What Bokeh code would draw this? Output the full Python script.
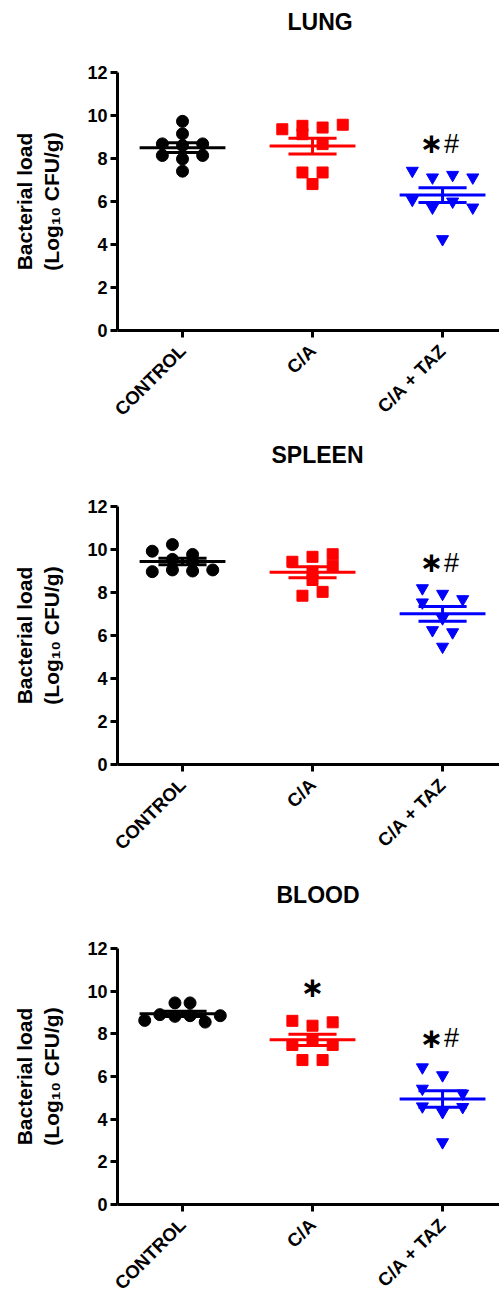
import numpy as np
from bokeh.plotting import figure
from bokeh.layouts import column
from bokeh.models import Range1d, FixedTicker, ColumnDataSource, Title
from bokeh.embed import file_html
from bokeh.resources import INLINE
from bokeh.core.properties import value

# ---------------- data ----------------
groups = ["CONTROL", "C/A", "C/A + TAZ"]
colors = ["#000000", "#FF0000", "#0000FF"]
markers = ["circle", "square", "inverted_triangle"]
y_ticks = [0, 2, 4, 6, 8, 10, 12]

# LUNG
lung_control = [9.73, 9.15, 8.68, 8.68, 8.60, 8.14, 8.14, 7.98, 7.41]
lung_control_slot = [0, 0, -1, 1, 0, -1, 1, 0, 0]
lung_ca = [9.36, 9.52, 9.13, 9.44, 9.57, 8.67, 7.35, 7.35, 6.81]
lung_ca_slot = [-1.5, -0.5, -0.5, 0.5, 1.5, 0.5, -0.5, 0.5, 0]
lung_taz = [7.43, 7.12, 7.24, 7.12, 6.08, 5.72, 6.00, 5.72, 4.25]
lung_taz_slot = [-1.5, -0.5, 0.5, 1.5, -1.5, -0.5, 0.5, 1.5, 0]
lung_sig = ["", "", "∗#"]
lung_sig_y = [0, 0, 8.74]

# SPLEEN
spleen_control = [9.92, 10.23, 9.54, 9.05, 8.97, 9.77, 9.43, 9.00, 9.05]
spleen_control_slot = [-1.5, -0.5, -0.5, -0.5, -1.5, 0.5, 0.5, 0.5, 1.5]
spleen_ca = [9.43, 9.66, 9.78, 9.25, 8.97, 8.58, 7.85, 8.03]
spleen_ca_slot = [-1, 0, 1, 1, 0, 0, -0.5, 0.5]
spleen_taz = [8.20, 7.94, 7.69, 7.54, 6.80, 6.25, 6.15, 5.48]
spleen_taz_slot = [-1, 0, 1, -1, 0, -0.5, 0.5, 0]
spleen_sig = ["", "", "∗#"]
spleen_sig_y = [0, 0, 9.43]

# BLOOD
blood_control = [8.63, 8.90, 9.45, 8.82, 9.45, 8.85, 8.55, 8.85]
blood_control_slot = [-1.875, -1.125, -0.375, -0.375, 0.375, 0.375, 1.125, 1.875]
blood_ca = [8.61, 8.38, 8.54, 7.48, 7.48, 6.77, 6.77, 7.72]
blood_ca_slot = [-1, 0, 1, -1, 1, -0.5, 0.5, 0]
blood_taz = [6.43, 6.06, 5.43, 5.20, 4.57, 4.33, 4.60, 2.92]
blood_taz_slot = [-1, 0, -1, 1, 1, 0, -1, 0]
blood_sig = ["", "∗", "∗#"]
blood_sig_y = [0, 10.24, 7.84]

panels = [
    ("LUNG", [lung_control, lung_ca, lung_taz],
     [lung_control_slot, lung_ca_slot, lung_taz_slot], lung_sig, lung_sig_y),
    ("SPLEEN", [spleen_control, spleen_ca, spleen_taz],
     [spleen_control_slot, spleen_ca_slot, spleen_taz_slot], spleen_sig, spleen_sig_y),
    ("BLOOD", [blood_control, blood_ca, blood_taz],
     [blood_control_slot, blood_ca_slot, blood_taz_slot], blood_sig, blood_sig_y),
]

# ---------------- styling ----------------
FONT = "Liberation Sans"
SLOT = 0.155          # horizontal spacing of point columns (category units)
MEAN_HALF = 0.33
SEM_HALF = 0.185
title_offsets = {"LUNG": 170, "SPLEEN": 154, "BLOOD": 159}
spacer_standoff = [25, 26, 28]
frame_heights = [258, 258, 256]
borders_bottom = [104, 112, 89]

figs = []
for k, (name, vals, slots, sig, sig_y) in enumerate(panels):
    p = figure(frame_width=382, frame_height=frame_heights[k],
               min_border_left=117, min_border_right=0,
               min_border_top=72, min_border_bottom=borders_bottom[k],
               x_range=Range1d(-0.5, 2.438), y_range=Range1d(0, 12),
               output_backend="svg", toolbar_location=None)
    # real title (outermost)
    p.title.text = name
    p.title.text_font = FONT
    p.title.text_font_size = "23px"
    p.title.text_font_style = "bold"
    p.title.text_color = "black"
    p.title.align = "left"
    p.title.offset = title_offsets[name]
    p.title.standoff = 0
    # invisible spacer between frame and title
    p.add_layout(Title(text=" ", text_font_size="10px",
                       standoff=spacer_standoff[k]), "above")

    p.grid.visible = False
    p.outline_line_color = None

    for ax in (p.xaxis, p.yaxis):
        ax.axis_line_width = 3
        ax.axis_line_color = "black"
        ax.major_tick_line_width = 3
        ax.major_tick_line_color = "black"
        ax.major_tick_out = 7
        ax.major_tick_in = 0
        ax.minor_tick_line_color = None
        ax.major_label_text_font = FONT
        ax.major_label_text_font_style = "bold"
        ax.major_label_text_color = "black"

    p.yaxis.ticker = FixedTicker(ticks=y_ticks)
    p.yaxis.major_label_text_font_size = "18px"
    p.yaxis.major_label_standoff = 3
    p.yaxis.axis_label = "Bacterial load\n(Log₁₀ CFU/g)"
    p.yaxis.axis_label_text_font = FONT
    p.yaxis.axis_label_text_font_style = "bold"
    p.yaxis.axis_label_text_font_size = "21px"
    p.yaxis.axis_label_text_color = "black"
    p.yaxis.axis_label_standoff = 21

    p.xaxis.ticker = FixedTicker(ticks=[0, 1, 2])
    p.xaxis.major_label_overrides = {i: g for i, g in enumerate(groups)}
    p.xaxis.major_label_orientation = np.pi / 4
    p.xaxis.major_label_text_font_size = "18.5px"
    p.xaxis.major_label_standoff = 10

    for gi in range(3):
        v = np.array(vals[gi], dtype=float)
        s = np.array(slots[gi], dtype=float)
        src = ColumnDataSource(dict(x=gi + s * SLOT, y=v))
        mean = v.mean()
        sem = v.std(ddof=1) / np.sqrt(len(v))
        c = colors[gi]
        p.scatter("x", "y", source=src, marker=markers[gi],
                  size=12 if markers[gi] != "square" else 11,
                  fill_color=c, line_color=c)
        p.segment(x0=[gi - MEAN_HALF], x1=[gi + MEAN_HALF], y0=[mean], y1=[mean],
                  line_color=c, line_width=3)
        p.segment(x0=[gi - SEM_HALF, gi - SEM_HALF, gi], x1=[gi + SEM_HALF, gi + SEM_HALF, gi],
                  y0=[mean - sem, mean + sem, mean - sem], y1=[mean - sem, mean + sem, mean + sem],
                  line_color=c, line_width=3)
        if sig[gi]:
            star, rest = sig[gi][0], sig[gi][1:]
            p.text(x=[gi], y=[sig_y[gi]], text=[star],
                   text_font=value("DejaVu Sans"), text_font_size="28px",
                   text_font_style="bold", x_offset=-11 if rest else 0, y_offset=1,
                   text_align="center", text_baseline="middle", text_color="black")
            if rest:
                p.text(x=[gi], y=[sig_y[gi]], text=[rest],
                       text_font=value(FONT), text_font_size="27px",
                       x_offset=9, y_offset=1, text_align="center", text_baseline="middle",
                       text_color="black")
    figs.append(p)

layout = column(*figs, spacing=0)
open("out.html", "w").write(file_html(layout, INLINE))
